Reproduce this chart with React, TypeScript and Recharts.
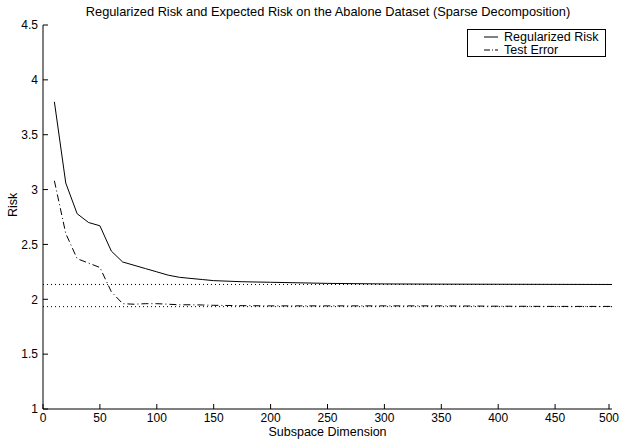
import * as React from "react";
import {
  Legend,
  Line,
  LineChart,
  ReferenceLine,
  XAxis,
  YAxis,
} from "recharts";

const FONT = "'Liberation Sans', Arial, Helvetica, sans-serif";

// values
const dims = [10, 20, 30, 40, 50, 60, 70, 80, 90, 100, 110, 120, 130, 140, 150, 175, 200, 250, 300, 350, 400, 450, 500];
const regularizedRisk = [3.8, 3.06, 2.78, 2.7, 2.67, 2.44, 2.34, 2.31, 2.28, 2.25, 2.22, 2.2, 2.19, 2.18, 2.17, 2.16, 2.155, 2.145, 2.14, 2.138, 2.137, 2.136, 2.135];
const testError = [3.08, 2.6, 2.37, 2.33, 2.29, 2.07, 1.96, 1.955, 1.96, 1.96, 1.955, 1.95, 1.95, 1.948, 1.945, 1.942, 1.94, 1.94, 1.94, 1.94, 1.937, 1.935, 1.935];

const xTicks = [0, 50, 100, 150, 200, 250, 300, 350, 400, 450, 500];
const yTicks = [1, 1.5, 2, 2.5, 3, 3.5, 4, 4.5];
const levels = [2.135, 1.933];

const TICK_LEN = 5;
const X_MARGIN = 4;
const Y_MARGIN = 5;

const data = dims.map((d, i) => ({ dim: d, reg: regularizedRisk[i], test: testError[i] }));

// label outside, tick mark pointing into the plot (MATLAB style)
function XTick({ x, y, payload }: any) {
  const axisY = y - X_MARGIN;
  return (
    <g>
      <line x1={x} x2={x} y1={axisY} y2={axisY - TICK_LEN} stroke="#000" />
      <text x={x} y={y} dy="0.75em" textAnchor="middle" fontSize={12} fontFamily={FONT} fill="#000">
        {payload.value}
      </text>
    </g>
  );
}

function YTick({ x, y, payload }: any) {
  const axisX = x + Y_MARGIN;
  return (
    <g>
      <line x1={axisX} x2={axisX + TICK_LEN} y1={y} y2={y} stroke="#000" />
      <text x={x} y={y} dy="0.355em" textAnchor="end" fontSize={12} fontFamily={FONT} fill="#000">
        {payload.value}
      </text>
    </g>
  );
}

function LegendBox() {
  const rows = [
    { name: "Regularized Risk", dash: undefined },
    { name: "Test Error", dash: "6 2 1 2" },
  ];
  return (
    <div
      style={{
        border: "1px solid #000",
        background: "#fff",
        width: 137,
        height: 26,
        fontFamily: FONT,
        fontSize: 12.5,
        lineHeight: "12px",
      }}
    >
      {rows.map((r) => (
        <div key={r.name} style={{ display: "flex", alignItems: "center", height: 12, marginTop: 1 }}>
          <svg width={36} height={12}>
            <line x1={16} x2={30} y1={6} y2={6} stroke="#000" strokeWidth={1} strokeDasharray={r.dash} />
          </svg>
          <span>{r.name}</span>
        </div>
      ))}
    </div>
  );
}

export default function App() {
  return (
    <div style={{ position: "absolute", left: 0, top: 0, width: 621, height: 439, background: "#fff" }}>
      <div
        style={{
          position: "absolute",
          left: 44,
          width: 568,
          top: 5,
          textAlign: "center",
          fontFamily: FONT,
          fontSize: 12.8,
          lineHeight: "14px",
        }}
      >
        Regularized Risk and Expected Risk on the Abalone Dataset (Sparse Decomposition)
      </div>
      <LineChart width={621} height={439} data={data} margin={{ top: 25, right: 9, left: 0, bottom: 0 }}>
        <XAxis
          dataKey="dim"
          type="number"
          domain={[0, 500]}
          allowDataOverflow
          ticks={xTicks}
          tick={<XTick />}
          tickLine={false}
          tickSize={0}
          tickMargin={X_MARGIN}
          axisLine={{ stroke: "#000" }}
          height={30}
          label={{ value: "Subspace Dimension", position: "insideBottom", offset: 3, fontSize: 12.5, fill: "#000", fontFamily: FONT }}
        />
        <XAxis
          xAxisId="top"
          orientation="top"
          dataKey="dim"
          type="number"
          domain={[0, 500]}
          allowDataOverflow
          ticks={xTicks}
          mirror
          height={0}
          tick={false}
          tickSize={TICK_LEN}
          tickLine={{ stroke: "#000" }}
          axisLine={{ stroke: "#000" }}
        />
        <YAxis
          type="number"
          domain={[1, 4.5]}
          allowDataOverflow
          ticks={yTicks}
          tick={<YTick />}
          tickLine={false}
          tickSize={0}
          tickMargin={Y_MARGIN}
          width={43}
          axisLine={{ stroke: "#000" }}
          label={{ value: "Risk", angle: -90, position: "insideLeft", offset: 13, fontSize: 12.5, fill: "#000", fontFamily: FONT }}
        />
        <YAxis
          yAxisId="right"
          orientation="right"
          type="number"
          domain={[1, 4.5]}
          allowDataOverflow
          ticks={yTicks}
          mirror
          width={0}
          tick={false}
          tickSize={TICK_LEN}
          tickLine={{ stroke: "#000" }}
          axisLine={{ stroke: "#000" }}
        />
        {levels.map((v) => (
          <ReferenceLine key={v} y={v} stroke="#000" strokeWidth={1} strokeDasharray="1 3" />
        ))}
        <Line
          xAxisId="top"
          yAxisId="right"
          dataKey="reg"
          name="Regularized Risk"
          stroke="#000"
          strokeWidth={1}
          dot={false}
          type="linear"
          isAnimationActive={false}
        />
        <Line
          dataKey="test"
          name="Test Error"
          stroke="#000"
          strokeWidth={1}
          strokeDasharray="7 3 1 3"
          dot={false}
          type="linear"
          isAnimationActive={false}
        />
        <Legend
          layout="horizontal"
          align="center"
          verticalAlign="middle"
          content={() => <LegendBox />}
          wrapperStyle={{ left: 467, top: 29, width: 139 }}
        />
      </LineChart>
    </div>
  );
}
